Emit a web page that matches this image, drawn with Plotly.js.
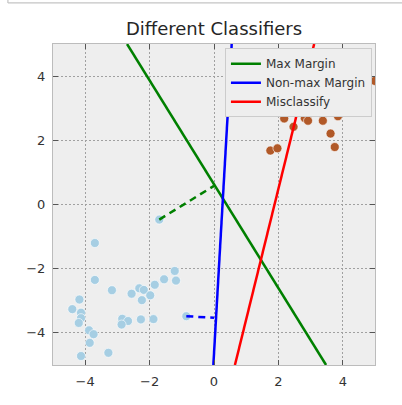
<!DOCTYPE html>
<html>
<head>
<meta charset="utf-8">
<script src="https://cdn.plot.ly/plotly-3.0.1.min.js"></script>
<style>
html,body{margin:0;padding:0;background:#fff;}
#chart{width:402px;height:405px;}
</style>
</head>
<body>
<div id="chart"></div>
<script>
// Class 0 (light blue) points
const blueX = [-3.70,-1.22,-3.70,-1.55,-1.18,-1.84,-3.17,-2.32,-2.18,-2.56,-1.98,-2.24,-4.18,-4.40,-4.13,-4.13,-4.20,-2.85,-2.67,-2.87,-2.27,-1.88,-0.86,-3.88,-3.74,-3.86,-4.13,-3.28,-1.70];
const blueY = [-1.20,-2.07,-2.35,-2.33,-2.37,-2.50,-2.67,-2.61,-2.66,-2.78,-2.83,-2.98,-2.96,-3.26,-3.37,-3.54,-3.69,-3.56,-3.63,-3.74,-3.58,-3.57,-3.48,-3.92,-4.04,-4.31,-4.72,-4.62,-0.47];
// Class 1 (brown) points
const brownX = [2.18,2.47,2.82,2.92,3.38,3.85,3.50,4.13,3.62,3.75,1.75,1.97,2.57,4.99];
const brownY = [2.68,2.42,2.69,2.61,2.61,2.75,2.90,2.91,2.21,1.79,1.68,1.75,2.94,3.85];

// Classifier lines (endpoints)
const maxMarginX = [-2.70, 3.48];
const maxMarginY = [5.0, -5.0];
const nonMaxX = [0.55, -0.02];
const nonMaxY = [5.0, -5.0];
const misclassX = [3.11, 0.65];
const misclassY = [5.0, -5.0];

// Margin (distance) segments
const maxDistX = [-1.70, 0.00];
const maxDistY = [-0.47, 0.58];
const nonMaxDistX = [-0.86, 0.00];
const nonMaxDistY = [-3.48, -3.53];

const labels = ["Max Margin", "Non-max Margin", "Misclassify"];

const traces = [
  {x: blueX, y: blueY, type: 'scatter', mode: 'markers', showlegend: false,
   marker: {color: '#a6cee3', size: 9, line: {color: '#ffffff', width: 0.6}}},
  {x: brownX, y: brownY, type: 'scatter', mode: 'markers', showlegend: false,
   marker: {color: '#b15928', size: 9, line: {color: '#ffffff', width: 0.6}}},
  {x: maxMarginX, y: maxMarginY, type: 'scatter', mode: 'lines', name: labels[0],
   line: {color: 'green', width: 2.5}},
  {x: nonMaxX, y: nonMaxY, type: 'scatter', mode: 'lines', name: labels[1],
   line: {color: 'blue', width: 2.5}},
  {x: misclassX, y: misclassY, type: 'scatter', mode: 'lines', name: labels[2],
   line: {color: 'red', width: 2.5}},
  {x: maxDistX, y: maxDistY, type: 'scatter', mode: 'lines', showlegend: false,
   line: {color: 'green', width: 2.5, dash: '7px,5px'}},
  {x: nonMaxDistX, y: nonMaxDistY, type: 'scatter', mode: 'lines', showlegend: false,
   line: {color: 'blue', width: 2.5, dash: '7px,5px'}}
];

const axisCommon = {
  range: [-5, 5],
  tickvals: [-4, -2, 0, 2, 4],
  ticktext: ['\u22124', '\u22122', '0', '2', '4'],
  showgrid: true,
  gridcolor: '#a0a0a0',
  gridwidth: 1,
  griddash: '2px,2px',
  zeroline: false,
  showline: true,
  linecolor: '#bcbcbc',
  linewidth: 1,
  mirror: 'ticks',
  ticks: 'inside',
  ticklen: 5,
  tickwidth: 1,
  tickcolor: '#555555',
  tickfont: {family: 'DejaVu Sans', size: 13, color: '#333333'},
  fixedrange: true
};

const layout = {
  width: 402,
  height: 405,
  margin: {l: 53, r: 27, t: 44, b: 40, pad: 0},
  paper_bgcolor: '#ffffff',
  plot_bgcolor: '#eeeeee',
  font: {family: 'DejaVu Sans', color: '#333333'},
  title: {text: 'Different Classifiers', font: {family: 'DejaVu Sans', size: 18, color: '#262626'},
          x: 0.5, xref: 'paper', xanchor: 'center', y: 0.928, yref: 'container', yanchor: 'middle'},
  xaxis: Object.assign({}, axisCommon, {ticklabelstandoff: 4}),
  yaxis: Object.assign({}, axisCommon, {ticklabelstandoff: 4}),
  showlegend: true,
  legend: {x: 0.534, y: 0.987, xanchor: 'left', yanchor: 'top',
           bgcolor: '#eeeeee', bordercolor: '#cccccc', borderwidth: 1,
           font: {family: 'DejaVu Sans', size: 12, color: '#333333'},
           itemwidth: 30, tracegroupgap: 0},
  hovermode: false,
  shapes: [
    {type: 'line', xref: 'paper', yref: 'paper', x0: -0.140, x1: 1.09, y0: 1.128, y1: 1.128,
     line: {color: '#c4c4c4', width: 1.2}},
    {type: 'line', xref: 'paper', yref: 'paper', x0: -0.140, x1: -0.140, y0: 1.128, y1: 1.145,
     line: {color: '#c4c4c4', width: 1.2}}
  ]
};

Plotly.newPlot('chart', traces, layout, {displayModeBar: false, staticPlot: true});
</script>
</body>
</html>
